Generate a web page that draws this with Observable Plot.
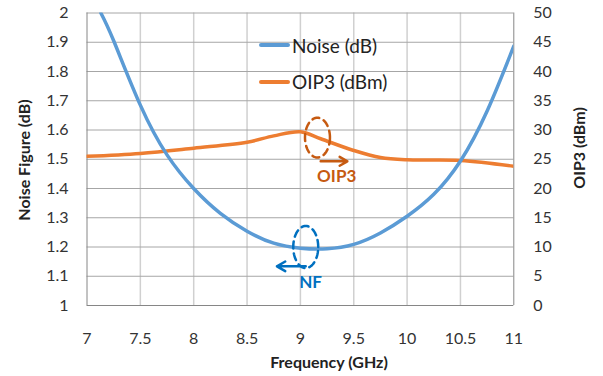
<!DOCTYPE html>
<html><head><meta charset="utf-8">
<script src="https://cdn.jsdelivr.net/npm/d3@7"></script>
<script src="https://cdn.jsdelivr.net/npm/@observablehq/plot@0.6"></script>
<style>
body{margin:0;background:#fff;}
#chart{position:relative;width:603px;height:376px;font-family:Lato,"Open Sans",sans-serif;color:#333;}
.ttl{position:absolute;font-weight:bold;font-size:16px;color:#222;white-space:nowrap;}
.rot{transform:translate(-50%,-50%) rotate(-90deg);}
.leg{position:absolute;font-size:19px;color:#222;white-space:nowrap;display:flex;align-items:center;}
.leg span.sw{display:inline-block;width:31px;height:4px;border-radius:2px;margin-right:2px;}
</style></head><body><div id="chart"></div>
<script>
// Noise figure (dB) vs frequency (GHz)
const nfFreq   = [7.13, 7.25, 7.5, 7.75, 8.0, 8.25, 8.5, 8.75, 9.0, 9.25, 9.5, 9.75, 10.0, 10.25, 10.5, 10.75, 11.0];
const nfValues = [2.0, 1.905, 1.685, 1.515, 1.40, 1.315, 1.254, 1.213, 1.196, 1.194, 1.209, 1.248, 1.305, 1.380, 1.494, 1.665, 1.887];
// OIP3 (dBm) vs frequency (GHz)
const oipFreq   = [7.0, 7.5, 8.0, 8.5, 8.75, 9.0, 9.19, 9.5, 9.75, 10.0, 10.5, 11.0];
const oipValues = [25.5, 26.0, 26.9, 27.9, 29.0, 29.7, 28.5, 26.5, 25.3, 24.9, 24.8, 23.8];
// axes
const xTicks  = [7, 7.5, 8, 8.5, 9, 9.5, 10, 10.5, 11];
const yTicks  = [1, 1.1, 1.2, 1.3, 1.4, 1.5, 1.6, 1.7, 1.8, 1.9, 2];
const y2Ticks = [0, 5, 10, 15, 20, 25, 30, 35, 40, 45, 50];
const seriesNames = ["Noise (dB)", "OIP3 (dBm)"];
const seriesColors = ["#5b9bd5", "#ed7d31"];
// annotations (data coordinates)
const annLabels = ["OIP3", "NF"];
const annColors = ["#c65a11", "#0070c0"];
const annCenterX = [9.16, 9.05];
const annCenterY = [1.574, 1.20];
const annRadX = [0.117, 0.117];
const annRadY = [0.068, 0.072];
const arrowX1 = [9.19, 9.05], arrowX2 = [9.44, 8.78], arrowY = [1.493, 1.134];
const textX = [9.34, 9.095], textY = [1.441, 1.08];

const yMin = 1, yMax = 2, y2Max = 50;
const toLeft = v => yMin + v * (yMax - yMin) / y2Max;

const nf = nfFreq.map((f, i) => ({f, v: nfValues[i]}));
const oip = oipFreq.map((f, i) => ({f, v: toLeft(oipValues[i])}));

const ellipses = [];
annLabels.forEach((lab, k) => {
  for (let t = 0; t <= 72; t++) {
    const a = t / 72 * 2 * Math.PI;
    ellipses.push({k, x: annCenterX[k] + annRadX[k] * Math.cos(a), y: annCenterY[k] + annRadY[k] * Math.sin(a)});
  }
});
const arrows = annLabels.map((lab, k) => ({k, x1: arrowX1[k], x2: arrowX2[k], y: arrowY[k]}));
const texts = annLabels.map((lab, k) => ({k, lab, x: textX[k], y: textY[k]}));

const plot = Plot.plot({
  width: 603, height: 376,
  marginLeft: 86.5, marginRight: 89.7, marginTop: 12.5, marginBottom: 71,
  style: {fontFamily: "Lato, 'Open Sans', sans-serif", fontSize: "16px", color: "#333", background: "#fff", overflow: "visible"},
  x: {domain: [7, 11]},
  y: {domain: [yMin, yMax]},
  marks: [
    Plot.ruleX(xTicks.slice(1, -1), {stroke: "#d0d0d0", strokeWidth: 1.5}),
    Plot.ruleY(yTicks.slice(1), {stroke: "#a6a6a6", strokeWidth: 1}),
    Plot.ruleX([7, 11], {stroke: "#868686", strokeWidth: 1}),
    Plot.ruleY([1], {stroke: "#868686", strokeWidth: 1}),
    Plot.axisX(xTicks, {anchor: "bottom", tickSize: 0, tickPadding: 27, label: null, tickFormat: d => String(d)}),
    Plot.axisY(yTicks, {anchor: "left", tickSize: 0, tickPadding: 18.5, label: null, tickFormat: d => String(d)}),
    Plot.axisY(y2Ticks.map(toLeft), {anchor: "right", tickSize: 0, tickPadding: 19.5, label: null, tickFormat: d => String(Math.round((d - yMin) * y2Max / (yMax - yMin)))}),
    Plot.line(oip, {x: "f", y: "v", stroke: seriesColors[1], strokeWidth: 3.5, curve: "catmull-rom", clip: true}),
    Plot.line(nf, {x: "f", y: "v", stroke: seriesColors[0], strokeWidth: 3.5, curve: "natural", clip: true}),
    Plot.line(ellipses, {x: "x", y: "y", z: "k", stroke: d => annColors[d.k], strokeWidth: 2.5, strokeDasharray: "7,5"}),
    Plot.arrow(arrows, {x1: "x1", x2: "x2", y1: "y", y2: "y", stroke: d => annColors[d.k], strokeWidth: 2.5, headLength: 10}),
    Plot.text(texts, {x: "x", y: "y", text: "lab", fill: d => annColors[d.k], fontWeight: "bold", fontSize: 17})
  ]
});
const chart = document.getElementById("chart");
chart.appendChild(plot);

function addDiv(cls, html, style) {
  const d = document.createElement("div");
  d.className = cls; d.innerHTML = html; Object.assign(d.style, style); chart.appendChild(d);
}
addDiv("ttl", "Frequency (GHz)", {left: "329px", top: "361px", transform: "translate(-50%,-50%)"});
addDiv("ttl rot", "Noise Figure (dB)", {left: "23px", top: "160px"});
addDiv("ttl rot", "OIP3 (dBm)", {left: "578px", top: "148px"});
seriesNames.forEach((n, i) => {
  addDiv("leg", `<span class="sw" style="background:${seriesColors[i]}"></span>${n}`, {left: "259px", top: (45 + i * 36.7 - 12) + "px", height: "24px"});
});
</script>
</body></html>
